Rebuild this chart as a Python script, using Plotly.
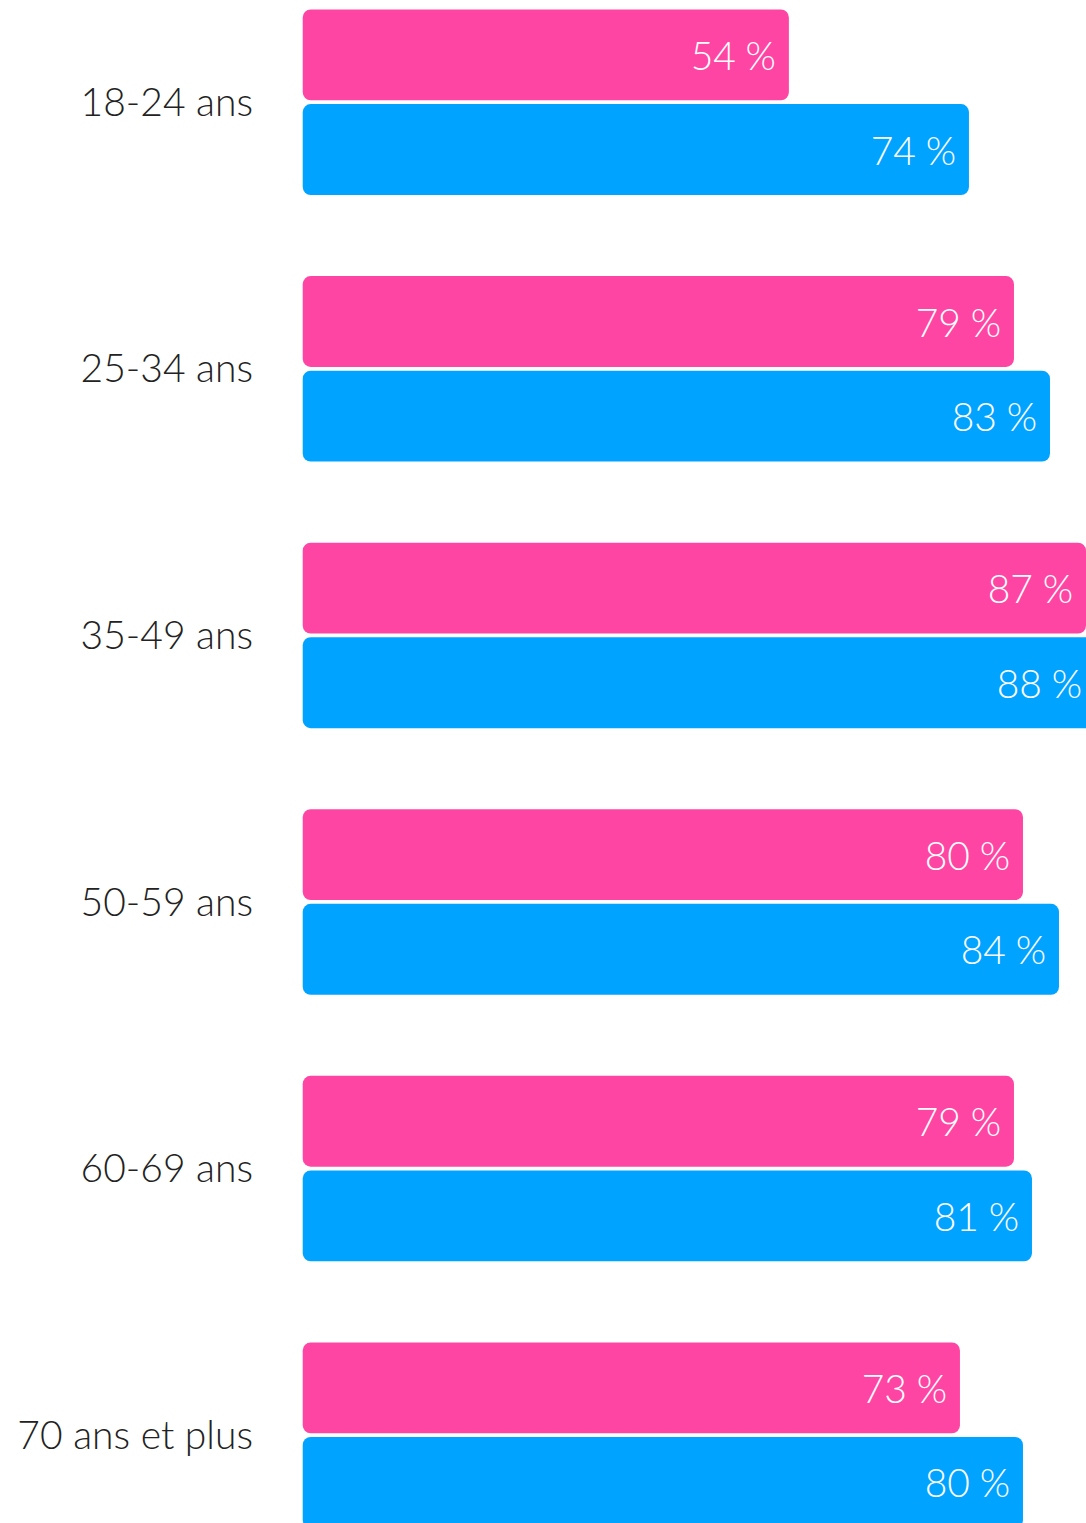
import plotly.graph_objects as go

categories = ["18-24 ans", "25-34 ans", "35-49 ans", "50-59 ans", "60-69 ans", "70 ans et plus"]
pink_values = [54, 79, 87, 80, 79, 73]
blue_values = [74, 83, 88, 84, 81, 80]

PINK = "#FF45A3"
BLUE = "#00A3FF"
FONT = "Lato Light, Lato"

pos = list(range(len(categories)))
BAR_W = 0.341
PINK_OFF = -0.3475
BLUE_OFF = 0.0075


def add_bar(fig, vals, color, offset):
    # explicit base makes plotly round both ends of the bar
    fig.add_trace(go.Bar(
        y=pos, x=vals, base=[0] * len(vals),
        orientation="h", width=BAR_W, offset=offset,
        marker=dict(color=color, line=dict(width=0)),
        text=[f"{v}\u202f%\u2009" for v in vals],
        textposition="inside", insidetextanchor="end", textangle=0,
        insidetextfont=dict(family=FONT, size=39, color="white", weight=300),
        hoverinfo="skip", showlegend=False,
    ))


fig = go.Figure()
add_bar(fig, pink_values, PINK, PINK_OFF)
add_bar(fig, blue_values, BLUE, BLUE_OFF)

fig.update_layout(
    width=1086,
    height=1523,
    margin=dict(l=302, r=0, t=0, b=0, pad=0),
    paper_bgcolor="white",
    plot_bgcolor="white",
    barmode="overlay",
    barcornerradius=8,
    showlegend=False,
    xaxis=dict(range=[-0.08, 87], visible=False, fixedrange=True),
    yaxis=dict(
        range=[5.33, -0.383],
        tickmode="array",
        tickvals=pos,
        ticktext=categories,
        showgrid=False,
        zeroline=False,
        showline=False,
        ticks="",
        ticklabelstandoff=48,
        tickfont=dict(family=FONT, size=39, color="#222222", weight=300),
        fixedrange=True,
    ),
)

fig.write_html(
    "out.html",
    config={"displayModeBar": False},
    post_script="document.body.style.margin='0';document.body.style.overflow='hidden';",
)
